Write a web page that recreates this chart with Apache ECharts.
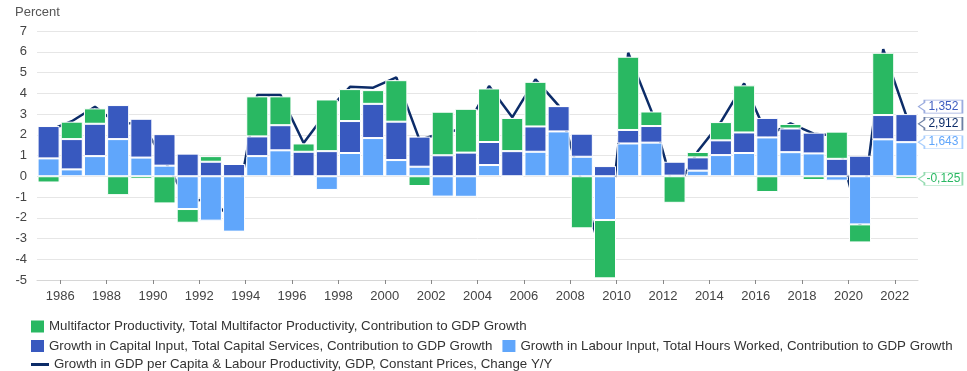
<!DOCTYPE html>
<html>
<head>
<meta charset="utf-8">
<script src="https://cdn.jsdelivr.net/npm/echarts@6/dist/echarts.min.js"></script>
<style>
  html, body { margin: 0; padding: 0; background: #fff; }
  #chart { width: 967px; height: 371px; }
</style>
</head>
<body>
<div id="chart"></div>
<script>
// Growth accounting: contributions to GDP growth, percent
const years = [1985, 1986, 1987, 1988, 1989, 1990, 1991, 1992, 1993, 1994,
  1995, 1996, 1997, 1998, 1999, 2000, 2001, 2002, 2003, 2004,
  2005, 2006, 2007, 2008, 2009, 2010, 2011, 2012, 2013, 2014,
  2015, 2016, 2017, 2018, 2019, 2020, 2021, 2022];

const labour = [0.86, 0.33, 0.97, 1.79, 0.90, 0.51, -1.58, -2.14, -2.67, 0.97,
  1.25, 0.00, -0.66, 1.12, 1.84, 0.78, 0.46, -0.98, -0.99, 0.54,
  0.00, 1.18, 2.16, 0.94, -2.11, 1.58, 1.62, 0.03, 0.27, 1.02,
  1.12, 1.87, 1.16, 1.10, -0.21, -2.32, 1.78, 1.643];

const capital = [1.56, 1.46, 1.56, 1.64, 1.87, 1.52, 1.09, 0.70, 0.59, 0.95,
  1.21, 1.18, 1.21, 1.54, 1.65, 1.85, 1.45, 1.01, 1.14, 1.11,
  1.21, 1.22, 1.22, 1.11, 0.49, 0.65, 0.80, 0.67, 0.64, 0.71,
  0.99, 0.94, 1.14, 1.00, 0.84, 0.99, 1.17, 1.352];

const mfp = [-0.30, 0.84, 0.74, -0.91, -0.13, -1.31, -0.66, 0.27, -0.02, 1.93,
  1.39, 0.40, 2.49, 1.54, 0.66, 2.00, -0.47, 2.10, 2.11, 2.58,
  1.60, 2.15, 0.00, -2.51, -2.81, 3.53, 0.70, -1.28, 0.26, 0.88,
  2.27, -0.76, 0.22, -0.18, 1.31, -0.87, 3.00, -0.125];

const gdp = [2.20, 2.65, 3.35, 2.50, 2.60, 0.75, -1.20, -1.10, -2.15, 3.92,
  3.92, 1.60, 3.10, 4.31, 4.27, 4.76, 1.75, 2.10, 2.30, 4.35,
  2.84, 4.67, 3.40, -0.30, -4.50, 5.95, 3.15, -0.80, 1.20, 2.62,
  4.47, 1.95, 2.55, 2.05, 1.95, -2.40, 6.12, 2.912];

const tickYears = [1986, 1988, 1990, 1992, 1994, 1996, 1998, 2000, 2002, 2004,
  2006, 2008, 2010, 2012, 2014, 2016, 2018, 2020, 2022];

const NAMES = {
  mfp: 'Multifactor Productivity, Total Multifactor Productivity, Contribution to GDP Growth',
  capital: 'Growth in Capital Input, Total Capital Services, Contribution to GDP Growth',
  labour: 'Growth in Labour Input, Total Hours Worked, Contribution to GDP Growth',
  gdp: 'Growth in GDP per Capita & Labour Productivity, GDP, Constant Prices, Change Y/Y'
};

const COLORS = {
  mfp: '#29b862',
  capital: '#3859bf',
  labour: '#60a6fb',
  gdp: '#0c2c68'
};

const FONT = '"Liberation Sans", Arial, sans-serif';

const last = years.length - 1;
const lastCat = String(years[last]);

// callout box with a left-pointing tip, used for the end-of-series value tags
const CALLOUT = 'path://M0,6.5 L6,2.5 L6,0 L44,0 L44,13 L6,13 L6,10.5 Z';
const fmt = v => v.toFixed(3).replace('.', ',');

function endTag(yValue, shownValue, color, border, dy) {
  return {
    symbol: CALLOUT,
    symbolSize: [44, 13],
    symbolOffset: [34, dy],
    animation: false,
    data: [{ coord: [lastCat, yValue], value: shownValue }],
    itemStyle: { color: '#fff', borderColor: border, borderWidth: 1 },
    label: {
      show: true,
      position: 'inside',
      offset: [3, 0],
      formatter: p => fmt(p.value),
      color: color,
      fontSize: 12,
      fontFamily: FONT
    }
  };
}

const barCommon = {
  type: 'bar',
  stack: 'total',
  barWidth: 22,
  z: 3,
  xAxisIndex: 0,
  itemStyle: { borderColor: '#ffffff', borderWidth: 1 }
};

const legendCommon = {
  orient: 'horizontal',
  left: 31,
  padding: 0,
  itemWidth: 13,
  itemHeight: 12,
  itemGap: 10,
  icon: 'rect',
  itemStyle: { borderWidth: 0 },
  textStyle: { color: '#333', fontSize: 13.3, fontFamily: FONT }
};

const chart = echarts.init(document.getElementById('chart'), null, { renderer: 'canvas' });

chart.setOption({
  animation: false,
  backgroundColor: '#fff',
  textStyle: { fontFamily: FONT },
  title: {
    text: 'Percent',
    left: 15,
    top: 6,
    padding: 0,
    textStyle: { fontSize: 13, fontWeight: 'normal', color: '#555', fontFamily: FONT }
  },
  legend: [
    Object.assign({}, legendCommon, { top: 320, data: [NAMES.mfp] }),
    Object.assign({}, legendCommon, { top: 339.5, data: [NAMES.capital, NAMES.labour] }),
    Object.assign({}, legendCommon, {
      top: 358, itemWidth: 18, itemHeight: 12,
      icon: 'path://M0,0 H18 V3 H0 Z',
      data: [NAMES.gdp]
    })
  ],
  grid: { left: 37, right: 49, top: 31, bottom: 91, containLabel: false },
  xAxis: [
    {
      // one band per year; carries the bars and the line
      type: 'category',
      data: years.map(String),
      boundaryGap: true,
      show: false
    },
    {
      // calendar scale drawn under the plot: ticks fall on year starts
      type: 'value',
      position: 'bottom',
      min: 1985,
      max: 2023,
      splitLine: { show: false },
      axisLine: { show: true, lineStyle: { color: '#d6d6d6', width: 1 } },
      axisTick: {
        show: true,
        length: 4,
        customValues: tickYears,
        lineStyle: { color: '#888' }
      },
      axisLabel: {
        customValues: tickYears,
        formatter: v => String(v),
        color: '#444',
        fontSize: 13,
        margin: 10,
        fontFamily: FONT
      }
    }
  ],
  yAxis: {
    type: 'value',
    min: -5,
    max: 7,
    interval: 1,
    axisLine: { show: false },
    axisTick: { show: false },
    splitLine: { lineStyle: { color: '#e6e6e6', width: 1 } },
    axisLabel: { color: '#444', fontSize: 13, margin: 10, fontFamily: FONT }
  },
  series: [
    Object.assign({}, barCommon, {
      name: NAMES.labour,
      color: COLORS.labour,
      data: labour,
      markPoint: endTag(labour[last], labour[last], '#60a6fb', 'rgba(96,166,251,0.55)', 0)
    }),
    Object.assign({}, barCommon, {
      name: NAMES.capital,
      color: COLORS.capital,
      data: capital,
      markPoint: endTag(labour[last] + capital[last], capital[last], '#3d5cc0', 'rgba(56,89,191,0.5)', -7.5)
    }),
    Object.assign({}, barCommon, {
      name: NAMES.mfp,
      color: COLORS.mfp,
      data: mfp,
      markPoint: endTag(mfp[last], mfp[last], '#29b862', 'rgba(41,184,98,0.5)', 0)
    }),
    {
      type: 'line',
      name: NAMES.gdp,
      color: COLORS.gdp,
      xAxisIndex: 0,
      z: 1,
      showSymbol: false,
      symbol: 'none',
      data: gdp,
      lineStyle: { color: COLORS.gdp, width: 2.5 },
      markPoint: endTag(gdp[last], gdp[last], '#0c2c68', 'rgba(12,44,104,0.6)', 8)
    }
  ]
});
</script>
</body>
</html>
